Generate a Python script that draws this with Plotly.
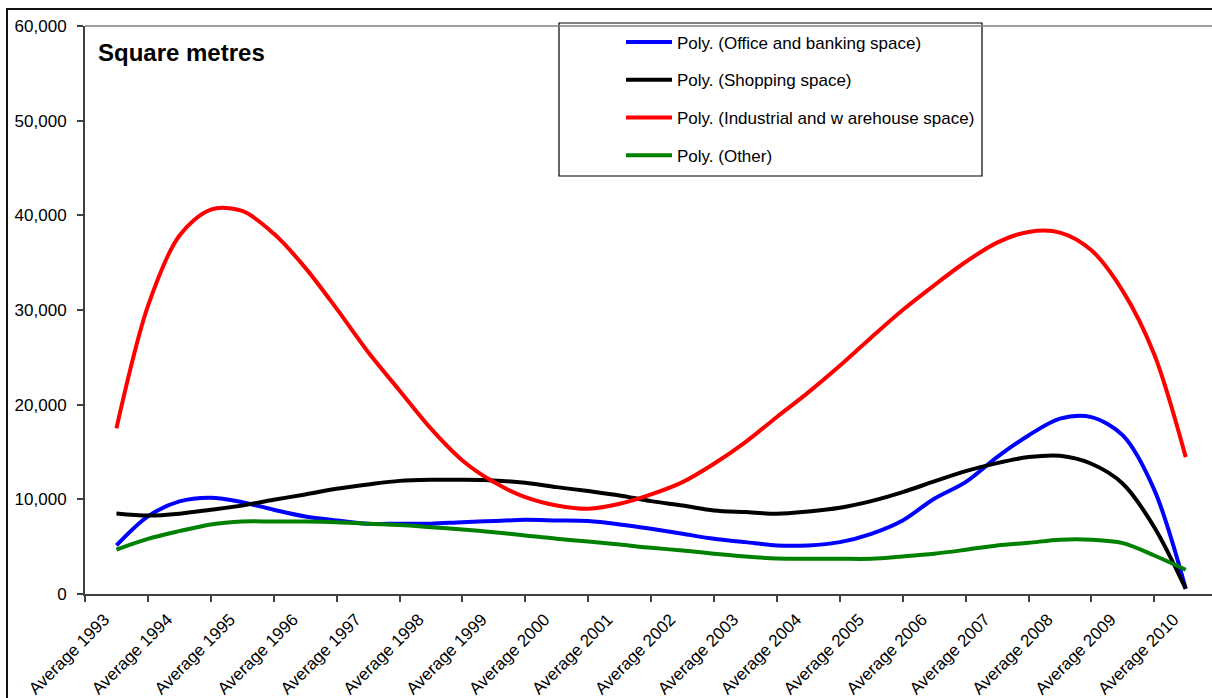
import plotly.graph_objects as go

# Half-yearly points along the trend curves, 1993 to 2010
years = [1993 + 0.5 * i for i in range(35)]

office = [5130, 8200, 9780, 10170, 9700, 8900, 8190, 7770, 7420, 7420,
          7420, 7590, 7700, 7840, 7770, 7700, 7350, 6890, 6360, 5830,
          5480, 5130, 5130, 5480, 6360, 7770, 10060, 11820, 14460, 16750,
          18520, 18690, 16750, 11000, 550]

shopping = [8500, 8280, 8480, 8900, 9350, 9950, 10520, 11120, 11570, 11950,
            12070, 12070, 12000, 11750, 11290, 10870, 10410, 9810, 9350, 8830,
            8650, 8480, 8720, 9110, 9810, 10760, 11890, 12980, 13830, 14460,
            14600, 13760, 11650, 7060, 550]

industrial = [17500, 30400, 37850, 40610, 40460, 38070, 34480, 30140, 25560, 21500,
              17460, 14110, 11820, 10230, 9350, 9000, 9530, 10520, 11820, 13760,
              16050, 18700, 21300, 24100, 27100, 30000, 32610, 35070, 37120, 38250,
              38180, 36310, 32000, 25300, 14460]

other = [4700, 5830, 6640, 7350, 7660, 7660, 7660, 7590, 7420, 7280,
         7060, 6820, 6530, 6180, 5830, 5550, 5230, 4880, 4600, 4250,
         3960, 3760, 3720, 3720, 3720, 3960, 4250, 4670, 5130, 5410,
         5730, 5730, 5370, 4070, 2560]

label_years = list(range(1993, 2011))
tick_labels = [f"Average {y}" for y in label_years]

series = [
    ("Poly. (Office and banking space)", office, "#0000FF"),
    ("Poly. (Shopping space)", shopping, "#000000"),
    ("Poly. (Industrial and w arehouse space)", industrial, "#FF0000"),
    ("Poly. (Other)", other, "#008000"),
]

W, H = 1212, 698
L, R, T, B = 85, 0, 26, 104
PW, PH = W - L - R, H - T - B


def px_x(px):
    return (px - L) / PW


def px_y(py):
    return (H - B - py) / PH


fig = go.Figure()
for i, (name, vals, col) in enumerate(series):
    fig.add_trace(go.Scatter(
        x=years, y=vals, name=name, mode="lines",
        line=dict(color=col, width=4, shape="spline", smoothing=0.9),
        legendgroup=f"g{i}",
    ))

# legend frame, outer chart frame and top edge of the plot area
fig.add_shape(type="rect", xref="paper", yref="paper",
              x0=px_x(559), x1=px_x(982), y0=px_y(176), y1=px_y(23),
              line=dict(color="#000000", width=1.2), fillcolor="white", layer="above")
fig.add_shape(type="rect", xref="paper", yref="paper",
              x0=px_x(7), x1=px_x(1300), y0=px_y(760), y1=px_y(9),
              line=dict(color="#111111", width=2), fillcolor="rgba(0,0,0,0)", layer="above")
fig.add_shape(type="line", xref="paper", yref="paper",
              x0=0, x1=1, y0=1, y1=1,
              line=dict(color="#808080", width=1.5))

fig.add_annotation(text="<b>Square metres</b>", xref="paper", yref="paper",
                   x=px_x(96), y=px_y(52), xanchor="left", yanchor="middle",
                   showarrow=False,
                   font=dict(family="Liberation Sans, Arial, sans-serif", size=24, color="black"))

tick_font = dict(family="Liberation Sans, Arial, sans-serif", size=17, color="black")

fig.update_layout(
    width=W, height=H, autosize=False,
    margin=dict(l=L, r=R, t=T, b=B, pad=0),
    paper_bgcolor="white", plot_bgcolor="white",
    showlegend=True,
    legend=dict(
        x=px_x(621), y=px_y(24.5), xanchor="left", yanchor="top",
        bgcolor="rgba(0,0,0,0)", borderwidth=0,
        font=dict(family="Liberation Sans, Arial, sans-serif", size=17, color="black"),
        tracegroupgap=12.6, traceorder="grouped", itemwidth=46,
    ),
    xaxis=dict(
        range=[1992.5, 1992.5 + (W - L) / 62.9],
        tickmode="array", tickvals=label_years, ticktext=tick_labels,
        tickangle=-45, ticks="", tickfont=tick_font,
        ticklabelstandoff=7, ticklabelshift=-12, automargin=False,
        showline=True, linecolor="#404040", linewidth=2,
        showgrid=False, zeroline=False,
        minor=dict(tickmode="array", tickvals=[y - 0.5 for y in label_years] + [2010.5],
                   ticks="outside", ticklen=6, tickcolor="#404040", tickwidth=1.5,
                   showgrid=False),
    ),
    yaxis=dict(
        range=[0, 60000], dtick=10000, tickformat=",",
        ticks="outside", ticklen=6, tickcolor="#404040", tickwidth=1.5,
        tickfont=tick_font, ticklabelstandoff=7, automargin=False,
        showline=True, linecolor="#404040", linewidth=2,
        showgrid=False, zeroline=False,
    ),
)

fig.write_html("out.html")
